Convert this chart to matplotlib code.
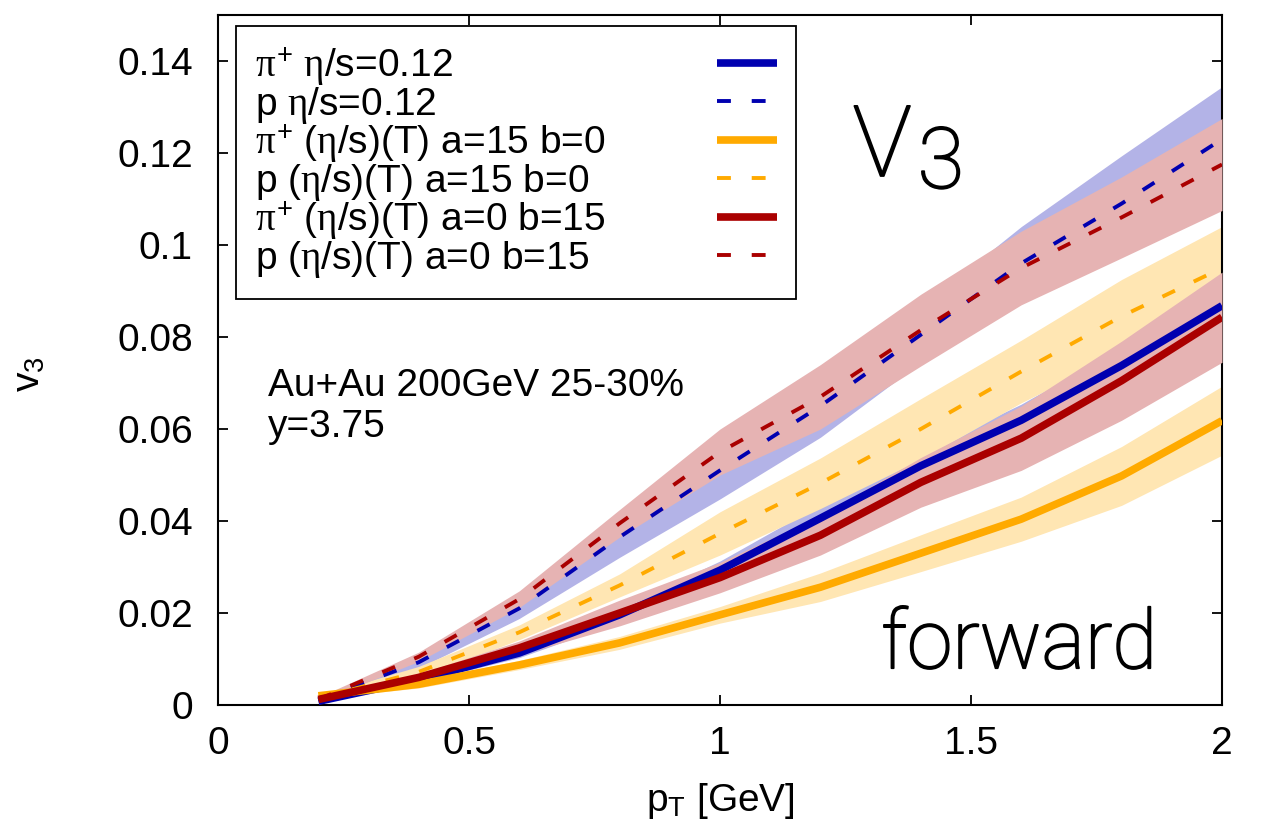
import numpy as np
import matplotlib
matplotlib.use("Agg")
import matplotlib.pyplot as plt
import matplotlib.patheffects as pe
from matplotlib.colors import to_rgb

plt.rcParams['font.family'] = ['Liberation Sans', 'DejaVu Sans']
plt.rcParams['mathtext.fontset'] = 'custom'
plt.rcParams['mathtext.rm'] = 'Liberation Sans'
plt.rcParams['mathtext.it'] = 'Liberation Serif'
plt.rcParams['mathtext.bf'] = 'Liberation Sans:bold'
plt.rcParams['lines.scale_dashes'] = False

# transverse momentum grid [GeV]
pT = [0.2, 0.4, 0.6, 0.8, 1.0, 1.2, 1.4, 1.6, 1.8, 2.0]

# v3 values and band half-widths
pi_eta012 = [0.0008, 0.0055, 0.0113, 0.0196, 0.0293, 0.0406, 0.0520, 0.0619, 0.0738, 0.0868]
pi_eta012_err = [0.0003, 0.0006, 0.0010, 0.0015, 0.0020, 0.0030, 0.0030, 0.0035, 0.0040, 0.0050]
p_eta012 = [0.0012, 0.0093, 0.0210, 0.0365, 0.0510, 0.0650, 0.0805, 0.0960, 0.1090, 0.1230]
p_eta012_err = [0.0005, 0.0013, 0.0022, 0.0044, 0.0062, 0.0068, 0.0060, 0.0080, 0.0104, 0.0114]
pi_a15 = [0.0020, 0.0045, 0.0087, 0.0135, 0.0196, 0.0256, 0.0330, 0.0404, 0.0498, 0.0618]
pi_a15_err = [0.0006, 0.0008, 0.0010, 0.0014, 0.0018, 0.0031, 0.0040, 0.0048, 0.0064, 0.0075]
p_a15 = [0.0015, 0.0072, 0.0158, 0.0260, 0.0373, 0.0482, 0.0600, 0.0725, 0.0845, 0.0950]
p_a15_err = [0.0005, 0.0012, 0.0016, 0.0025, 0.0047, 0.0055, 0.0066, 0.0068, 0.0080, 0.0090]
pi_b15 = [0.0012, 0.0060, 0.0124, 0.0200, 0.0277, 0.0369, 0.0484, 0.0580, 0.0705, 0.0843]
pi_b15_err = [0.0005, 0.0008, 0.0015, 0.0028, 0.0033, 0.0043, 0.0054, 0.0070, 0.0086, 0.0098]
p_b15 = [0.0012, 0.0105, 0.0230, 0.0395, 0.0550, 0.0670, 0.0815, 0.0950, 0.1060, 0.1175]
p_b15_err = [0.0005, 0.0010, 0.0018, 0.0030, 0.0050, 0.0070, 0.0078, 0.0080, 0.0088, 0.0100]

labels = [r'$\pi^{+}$ $\eta$/s=0.12',
          r'p $\eta$/s=0.12',
          r'$\pi^{+}$ ($\eta$/s)(T) a=15 b=0',
          r'p ($\eta$/s)(T) a=15 b=0',
          r'$\pi^{+}$ ($\eta$/s)(T) a=0 b=15',
          r'p ($\eta$/s)(T) a=0 b=15']

xticks = [0, 0.5, 1, 1.5, 2]
xticklabels = ['0', '0.5', '1', '1.5', '2']
yticks = [0, 0.02, 0.04, 0.06, 0.08, 0.1, 0.12, 0.14]
yticklabels = ['0', '0.02', '0.04', '0.06', '0.08', '0.1', '0.12', '0.14']

BLUE = '#0000b0'
ORANGE = '#ffaa00'
RED = '#aa0000'


def tint(c, a=0.3):
    r, g, b = to_rgb(c)
    return (1 - a * (1 - r), 1 - a * (1 - g), 1 - a * (1 - b))


series = [
    (pi_eta012, pi_eta012_err, BLUE, '-'),
    (p_eta012, p_eta012_err, BLUE, '--'),
    (pi_a15, pi_a15_err, ORANGE, '-'),
    (p_a15, p_a15_err, ORANGE, '--'),
    (pi_b15, pi_b15_err, RED, '-'),
    (p_b15, p_b15_err, RED, '--'),
]

fig = plt.figure(figsize=(12.63, 8.23), dpi=100)
ax = fig.add_axes([218 / 1263, 118 / 823, 1004 / 1263, 690 / 823])

x = np.array(pT)
# bands: blue first, then orange, then red on top
for i, (v, e, c, ls) in enumerate(series):
    v = np.array(v)
    e = np.array(e)
    ax.fill_between(x, v - e, v + e, color=tint(c), lw=0, zorder=1 + i // 2)

handles = []
for i, (v, e, c, ls) in enumerate(series):
    if ls == '-':
        h, = ax.plot(x, v, color=c, lw=5.5, solid_capstyle='butt',
                     solid_joinstyle='round', zorder=5 + i)
    else:
        h, = ax.plot(x, v, color=c, lw=2.8, dashes=(10, 15),
                     dash_capstyle='butt', zorder=5 + i)
    handles.append(h)

ax.set_xlim(0, 2)
ax.set_ylim(0, 0.15)
ax.set_xticks(xticks)
ax.set_xticklabels(xticklabels)
ax.set_yticks(yticks)
ax.set_yticklabels(yticklabels)
ax.tick_params(direction='in', length=7, width=1.3, top=True, right=True,
               labelsize=28, color='black')
ax.tick_params(axis='x', pad=15)
ax.tick_params(axis='y', pad=18)
for s in ax.spines.values():
    s.set_linewidth(1.5)

ax.set_xlabel(r'p$_\mathrm{T}$ [GeV]', fontsize=28, labelpad=14)
ax.set_ylabel(r'v$_\mathrm{3}$', fontsize=28)
ax.yaxis.set_label_coords(-0.17, 0.48)

ax.text(0.1, 0.0671, 'Au+Au 200GeV 25-30%', fontsize=28, va='baseline', ha='left')
ax.text(0.1, 0.0582, 'y=3.75', fontsize=28, va='baseline', ha='left')

thin = dict(family='Roboto', weight='light', ha='center', va='baseline',
            path_effects=[pe.withStroke(linewidth=1.3, foreground='black')])
ax.text(1.323, 0.1150, 'V', fontsize=71, **thin)
ax.text(1.440, 0.1124, '3', fontsize=61, **thin)
ax.text(1.596, 0.008, 'forward', fontsize=59, **thin)

leg = ax.legend(handles, labels, loc='upper left', bbox_to_anchor=(0.0179, 0.984),
                borderaxespad=0, frameon=True, fancybox=False, framealpha=1,
                edgecolor='black', fontsize=28, markerfirst=False,
                handlelength=1.52, labelspacing=-0.09, borderpad=0.5)
leg.get_frame().set_linewidth(1.3)
leg.set_zorder(20)

# keep text left-aligned with the line samples in one right-hand column
fig.canvas.draw()
renderer = fig.canvas.get_renderer()
rows = leg._legend_handle_box.get_children()[0].get_children()
widths = [t.get_window_extent(renderer).width for t in leg.get_texts()]
target = 462.0
for hp, w in zip(rows, widths):
    hp.sep = (target - w) * 72.0 / fig.dpi

fig.savefig('out.png', dpi=100)
